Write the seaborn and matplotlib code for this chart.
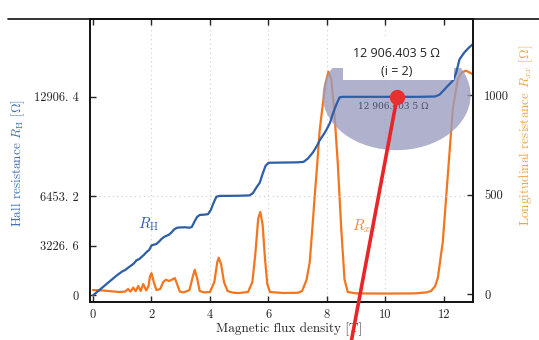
import pandas as pd
import seaborn as sns
import matplotlib.pyplot as plt
from matplotlib.patches import Ellipse, Rectangle
from matplotlib.lines import Line2D

# Hall resistance trace (B in T, R in ohm)
b_hall = [0.0, 0.2, 0.4, 0.6, 0.8, 1.0, 1.1, 1.2, 1.32, 1.4, 1.49, 1.58, 1.66, 1.75, 1.83,
          1.92, 2.0, 2.08, 2.17, 2.26, 2.34, 2.43, 2.51, 2.6, 2.68, 2.78, 2.88, 3.0, 3.15, 3.3,
          3.38, 3.47, 3.56, 3.65, 3.8, 3.93, 4.03, 4.12, 4.22, 4.33, 4.6, 5.0, 5.35, 5.47,
          5.6, 5.7, 5.8, 5.9, 6.0, 6.3, 6.7, 7.0, 7.2, 7.35, 7.52, 7.65, 7.75, 7.88, 7.97,
          8.1, 8.2, 8.32, 8.43, 8.55, 8.8, 9.5, 10.4, 11.2, 11.7, 11.85, 12.0, 12.12, 12.24,
          12.32, 12.42, 12.53, 12.7, 12.85, 13.0]
r_hall = [0, 320, 640, 960, 1280, 1560, 1650, 1800, 1965, 2080, 2290, 2360, 2497, 2650, 2815,
          2950, 3243, 3300, 3347, 3500, 3665, 3800, 3872, 3950, 4086, 4300, 4400, 4420, 4430, 4400,
          4450, 4800, 5100, 5230, 5250, 5280, 5560, 6000, 6415, 6470, 6470, 6480, 6500, 6650,
          7050, 7316, 7900, 8418, 8620, 8630, 8640, 8650, 8680, 8900, 9293, 9700, 10076, 10450, 10721,
          11200, 11798, 12400, 12875, 12906.4, 12906.4, 12906.4, 12906.4, 12906.4, 12930, 13050, 13350, 13600, 13828,
          14000, 14500, 15340, 15800, 16100, 16350]

# longitudinal resistance trace (B in T, R in ohm)
b_long = [0.0, 0.3, 0.6, 0.9, 1.1, 1.2, 1.28, 1.38, 1.46, 1.55, 1.63, 1.72, 1.82, 1.9, 1.95,
          2.0, 2.08, 2.17, 2.3, 2.4, 2.5, 2.6, 2.7, 2.8, 2.9, 2.97, 3.1, 3.3, 3.4, 3.48,
          3.56, 3.65, 3.8, 4.0, 4.15, 4.25, 4.3, 4.38, 4.48, 4.6, 4.8, 5.0, 5.3, 5.45, 5.55,
          5.65, 5.72, 5.8, 5.88, 5.96, 6.05, 6.5, 7.0, 7.15, 7.3, 7.41, 7.5, 7.58, 7.67, 7.75,
          7.86, 7.95, 8.05, 8.15, 8.26, 8.37, 8.49, 8.6, 8.71, 9.0, 10.0, 11.0, 11.4, 11.56, 11.7,
          11.79, 11.96, 12.13, 12.3, 12.47, 12.6, 12.75, 12.92, 13.0]
r_long = [20, 18, 14, 10, 12, 25, 12, 32, 14, 40, 15, 50, 18, 40, 89,
          105, 60, 20, 25, 60, 72, 65, 72, 80, 40, 12, 8, 20, 80, 122,
          80, 15, 8, 10, 60, 160, 183, 150, 60, 15, 6, 5, 10, 60, 200,
          380, 413, 350, 180, 50, 10, 5, 6, 15, 70, 160, 330, 492, 660, 824,
          958, 1060, 1120, 1080, 900, 657, 323, 73, 10, 3, 2, 3, 8, 15, 40,
          81, 264, 597, 930, 1080, 1115, 1125, 1112, 1105]

b_ticks = [0, 2, 4, 6, 8, 10, 12]
hall_ticks = [0, 3226.6, 6453.2, 12906.4]
hall_ticklabels = ["0", "3226. 6", "6453. 2", "12906. 4"]
long_ticks = [0, 500, 1000]
plateau_b = 10.4
plateau_r = 12906.4

blue = "#2d5ea8"
orange = "#f27620"

sns.set_style("ticks")
plt.rcParams["font.family"] = ["cmr10", "DejaVu Serif"]
plt.rcParams["mathtext.fontset"] = "cm"
plt.rcParams["axes.formatter.use_mathtext"] = True
plt.rcParams["xtick.direction"] = "in"
plt.rcParams["ytick.direction"] = "in"

hall = pd.DataFrame({"B": b_hall, "R": r_hall})
longi = pd.DataFrame({"B": b_long, "R": r_long})

fig = plt.figure(figsize=(5.39, 3.40), dpi=100)
ax = fig.add_axes([0.167, 0.112, 0.711, 0.832])   # longitudinal (right axis)
ax2 = ax.twinx()                                   # hall (left axis), drawn on top

sns.lineplot(data=longi, x="B", y="R", ax=ax, color=orange, lw=1.6, estimator=None)
sns.lineplot(data=hall, x="B", y="R", ax=ax2, color=blue, lw=1.6, estimator=None)

ax.set_xlim(-0.1, 13.0)
ax.set_ylim(-40, 1385)
ax2.set_ylim(-420, 17960)

# swap sides: hall on the left, longitudinal on the right
ax.yaxis.tick_right()
ax.yaxis.set_label_position("right")
ax2.yaxis.tick_left()
ax2.yaxis.set_label_position("left")

ax.set_xticks(b_ticks)
ax.set_xticklabels([str(t) for t in b_ticks])
ax.set_yticks(long_ticks)
ax.set_yticklabels([str(t) for t in long_ticks])
ax2.set_yticks(hall_ticks)
ax2.set_yticklabels(hall_ticklabels)
ax.tick_params(axis="x", top=True, labelsize=9, length=4, width=1, pad=5)
ax.tick_params(axis="y", labelsize=9, length=4, width=1, pad=8)
ax2.tick_params(axis="y", labelsize=9, length=4, width=1, pad=8)

for a in (ax, ax2):
    for s in a.spines.values():
        s.set_linewidth(1.2)
        s.set_color("#111111")

# faint dotted guide lines
for t in b_ticks[1:-1]:
    ax.axvline(t, color="#cfcfcf", lw=0.8, ls=(0, (1, 3)), zorder=0)
ax2.axhline(6453.2, color="#cfcfcf", lw=0.8, ls=(0, (1, 3)), zorder=0)

ax.set_xlabel("Magnetic flux density [T]", fontsize=9.5)
ax.xaxis.set_label_coords(0.52, -0.072)
ax2.set_ylabel(r"Hall resistance $R_\mathrm{H}$ [$\Omega$]", color="#3d70b8", fontsize=9.5)
ax2.yaxis.set_label_coords(-0.165, 0.49)
ax.set_ylabel(r"Longitudinal resistance $R_{xx}$ [$\Omega$]", color="#eba544", fontsize=9.5)
ax.yaxis.set_label_coords(1.115, 0.59)

ax2.text(1.9, 4650, r"$R_\mathrm{H}$", color=blue, fontsize=11, ha="center", va="center")
ax.text(9.3, 340, r"$R_{xx}$", color="#f28a3a", fontsize=11, ha="center", va="center")

# magnifier callout for the i = 2 plateau (lens cut flat along its top)
lens = Ellipse((0.80, 0.731), 0.386, 0.389, transform=ax.transAxes,
               facecolor="#9a9dbf", edgecolor="none", alpha=0.78, zorder=5)
ax.add_patch(lens)
lens_clip = Rectangle((0, 0), 1, 0.827, transform=ax.transAxes, facecolor="none", edgecolor="none")
lens.set_clip_path(lens_clip)
ax.text(0.79, 0.69, "12 906.403 5 Ω", transform=ax.transAxes, fontsize=6.5,
        color="#4a4e63", ha="center", va="center", zorder=6, family="DejaVu Serif")
ax2.add_patch(Rectangle((0.66, 0.784), 0.29, 0.15, transform=ax2.transAxes,
                        facecolor="white", edgecolor="none", zorder=7))
ax2.text(0.80, 0.878, "12 906.403 5 Ω", transform=ax2.transAxes, fontsize=9,
         ha="center", va="center", zorder=8, family="Open Sans", color="#222222")
ax2.text(0.80, 0.815, "(i = 2)", transform=ax2.transAxes, fontsize=9,
         ha="center", va="center", zorder=8, family="Open Sans", color="#222222")
ax2.annotate("", xy=(plateau_b, plateau_r), xytext=(0.651, -0.01),
             textcoords="figure fraction", annotation_clip=False,
             arrowprops=dict(arrowstyle="-", color="#e8262a", lw=2.6, shrinkA=0, shrinkB=0),
             zorder=9)
ax2.plot([plateau_b], [plateau_r], "o", color="#e8312f", ms=10, zorder=10, clip_on=False)

# page rule running across the top of the scan
fig.add_artist(Line2D([0.015, 1.0], [0.944, 0.944], transform=fig.transFigure,
                      color="#111111", lw=1.2))

fig.savefig("out.png", dpi=100)
